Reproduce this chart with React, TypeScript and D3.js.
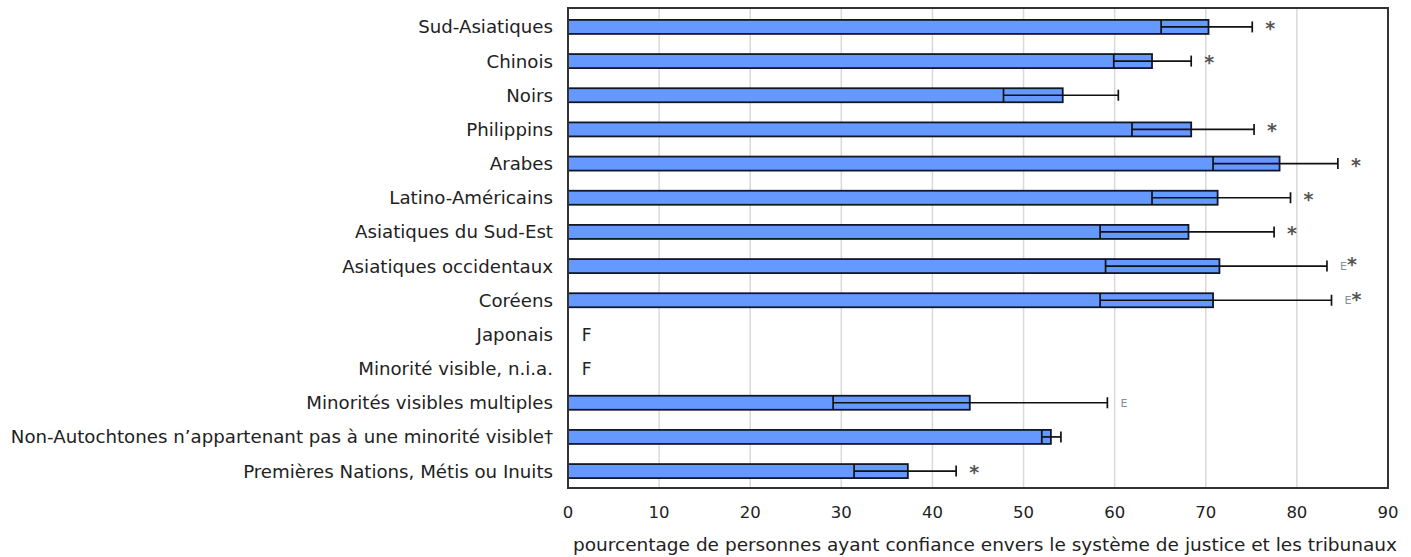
import React from "react";
import * as d3 from "d3";

// Groups, top to bottom
const categories = [
  "Sud-Asiatiques",
  "Chinois",
  "Noirs",
  "Philippins",
  "Arabes",
  "Latino-Américains",
  "Asiatiques du Sud-Est",
  "Asiatiques occidentaux",
  "Coréens",
  "Japonais",
  "Minorité visible, n.i.a.",
  "Minorités visibles multiples",
  "Non-Autochtones n’appartenant pas à une minorité visible†",
  "Premières Nations, Métis ou Inuits",
];

// Percentage with confidence in the justice system and courts (null = too unreliable)
const values: (number | null)[] = [70.3, 64.1, 54.3, 68.4, 78.1, 71.3, 68.1, 71.5, 70.8, null, null, 44.1, 53.0, 37.3];
// 95% confidence interval bounds
const lowerCI: (number | null)[] = [65.1, 59.9, 47.8, 61.9, 70.8, 64.1, 58.4, 59.0, 58.4, null, null, 29.1, 52.0, 31.4];
const upperCI: (number | null)[] = [75.1, 68.4, 60.4, 75.3, 84.5, 79.3, 77.5, 83.3, 83.8, null, null, 59.2, 54.1, 42.6];
// Quality flags: E = use with caution, * = significantly different from reference, F = too unreliable
const qualityE = [false, false, false, false, false, false, false, true, true, false, false, true, false, false];
const significant = [true, true, false, true, true, true, true, true, true, false, false, false, false, true];
const suppressed = [false, false, false, false, false, false, false, false, false, true, true, false, false, false];

const xTicks = [0, 10, 20, 30, 40, 50, 60, 70, 80, 90];
const xTitle = "pourcentage de personnes ayant confiance envers le système de justice et les tribunaux";

const W = 1411;
const H = 557;
const plot = { left: 568, right: 1388, top: 8, bottom: 488 };
const FONT = "'DejaVu Sans', Verdana, sans-serif";

export default function App() {
  const x = d3.scaleLinear().domain([0, 90]).range([plot.left, plot.right]);
  const y = d3
    .scaleBand<string>()
    .domain(categories)
    .range([plot.top + 2, plot.bottom])
    .paddingInner(0.59)
    .paddingOuter(0.29);
  const bw = y.bandwidth();
  const cap = 11;

  return (
    <div style={{ position: "fixed", left: 0, top: 0, width: W, height: H, background: "#fff" }}>
      <svg width={W} height={H} style={{ display: "block" }}>
        <rect x={0} y={0} width={W} height={H} fill="#fff" />
        {/* vertical gridlines */}
        {xTicks
          .filter((t) => t > 0 && t < 90)
          .map((t) => (
            <line key={t} x1={x(t)} x2={x(t)} y1={plot.top} y2={plot.bottom} stroke="#d9d9d9" strokeWidth={1.5} />
          ))}

        {/* bars and error bars */}
        {categories.map((c, i) => {
          const v = values[i];
          const yc = (y(c) as number) + bw / 2;
          if (v == null) {
            return suppressed[i] ? (
              <text key={c} x={x(1.5)} y={yc} dy="0.36em" fontFamily={FONT} fontSize={17} fill="#222">
                F
              </text>
            ) : null;
          }
          const lo = lowerCI[i] as number;
          const hi = upperCI[i] as number;
          const noteX = x(hi) + 13;
          return (
            <g key={c}>
              <rect
                x={x(0)}
                y={y(c)}
                width={x(v) - x(0)}
                height={bw}
                fill="#6699ff"
                stroke="#101828"
                strokeWidth={1.8}
              />
              <line x1={x(lo)} x2={x(hi)} y1={yc} y2={yc} stroke="#111" strokeWidth={1.7} />
              <line x1={x(lo)} x2={x(lo)} y1={yc - bw / 2} y2={yc + bw / 2} stroke="#111" strokeWidth={1.7} />
              <line x1={x(hi)} x2={x(hi)} y1={yc - cap / 2} y2={yc + cap / 2} stroke="#111" strokeWidth={1.7} />
              <text x={noteX} y={yc} fontFamily={FONT}>
                {qualityE[i] && (
                  <tspan fontSize={11} fill="#8090a8" dy="0.35em">
                    E
                  </tspan>
                )}
                {significant[i] && (
                  <tspan fontSize={19} fontWeight="bold" fill="#555" dy={qualityE[i] ? "0.08em" : "0.42em"}>
                    *
                  </tspan>
                )}
              </text>
            </g>
          );
        })}

        {/* frame */}
        <rect
          x={plot.left}
          y={plot.top}
          width={plot.right - plot.left}
          height={plot.bottom - plot.top}
          fill="none"
          stroke="#333"
          strokeWidth={2}
        />

        {/* category labels */}
        {categories.map((c) => (
          <text
            key={c}
            x={plot.left - 15}
            y={(y(c) as number) + bw / 2}
            dy="0.36em"
            textAnchor="end"
            fontFamily={FONT}
            fontSize={18.2}
            fill="#222"
          >
            {c}
          </text>
        ))}

        {/* x tick labels */}
        {xTicks.map((t) => (
          <text
            key={t}
            x={x(t)}
            y={518}
            textAnchor="middle"
            fontFamily={FONT}
            fontSize={16.5}
            fill="#222"
          >
            {t}
          </text>
        ))}

        {/* x axis title */}
        <text x={985} y={551} textAnchor="middle" fontFamily={FONT} fontSize={18.5} fill="#222">
          {xTitle}
        </text>
      </svg>
    </div>
  );
}
